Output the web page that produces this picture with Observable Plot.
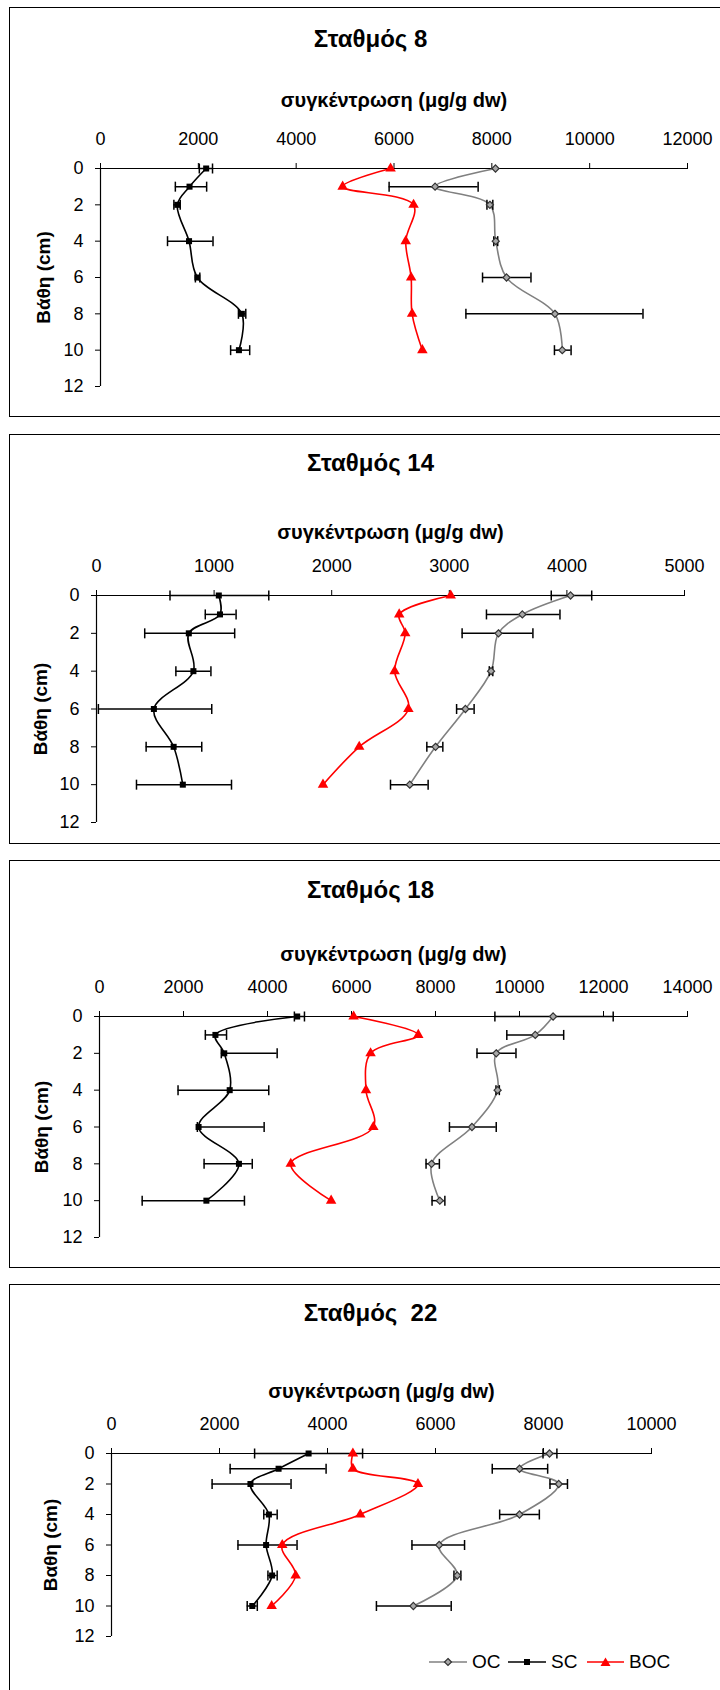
<!DOCTYPE html>
<html>
<head>
<meta charset="utf-8">
<script src="https://cdn.jsdelivr.net/npm/d3@7"></script>
<script src="https://cdn.jsdelivr.net/npm/@observablehq/plot@0.6"></script>
<style>
  body { margin: 0; background: #fff; font-family: "Liberation Sans", Arial, sans-serif; }
  #page { position: relative; width: 720px; height: 1690px; overflow: hidden; background: #fff; }
  .frame { position: absolute; border: 1.5px solid #000; box-sizing: border-box; }
  .plotbox { position: absolute; left: 0; }
  .plotbox svg { overflow: visible; }
  .leg { position: absolute; font-size: 19px; line-height: 1; color: #000; }
</style>
</head>
<body>
<div id="page"></div>
<script>
// ---------- data ----------
const depths = [0, 1, 2, 4, 6, 8, 10];
const yTicks = [0, 2, 4, 6, 8, 10, 12];
const stationTitles = ["Σταθμός 8", "Σταθμός 14", "Σταθμός 18", "Σταθμός  22"];
const depthLabels = ["Βάθη (cm)", "Βάθη (cm)", "Βάθη (cm)", "Βαθη (cm)"];
const xTitle = "συγκέντρωση (μg/g dw)";
const xMax = [12000, 5000, 14000, 10000];
const xStep = [2000, 1000, 2000, 2000];
const seriesNames = ["OC", "SC", "BOC"];

// Station 8
const st8_OC    = [8075, 6840, 7960, 8080, 8300, 9290, 9440];
const st8_OC_lo = [null, 5900, 7900, 8040, 7810, 7470, 9280];
const st8_OC_hi = [null, 7720, 8020, 8120, 8800, 11090, 9620];
const st8_SC    = [2160, 1820, 1570, 1810, 1980, 2890, 2830];
const st8_SC_lo = [2020, 1530, 1500, 1370, 1940, 2820, 2660];
const st8_SC_hi = [2290, 2170, 1630, 2300, 2030, 2970, 3050];
const st8_BOC   = [5930, 4950, 6400, 6240, 6350, 6370, 6580];

// Station 14
const st14_OC    = [4031, 3621, 3418, 3355, 3137, 2883, 2664];
const st14_OC_lo = [3867, 3316, 3109, 3340, 3062, 2809, 2500];
const st14_OC_hi = [4211, 3941, 3711, 3370, 3211, 2945, 2820];
const st14_SC    = [1040, 1050, 785, 824, 488, 656, 734];
const st14_SC_lo = [625, 925, 410, 675, 16, 422, 340];
const st14_SC_hi = [1465, 1187, 1175, 973, 980, 895, 1148];
const st14_BOC   = [3012, 2574, 2625, 2535, 2652, 2234, 1926];

// Station 18
const st18_OC    = [10800, 10375, 9446, 9479, 8868, 7907, 8103];
const st18_OC_lo = [9414, 9698, 8988, 9440, 8332, 7775, 7918];
const st18_OC_hi = [12231, 11052, 9916, 9520, 9446, 8092, 8223];
const st18_SC    = [4707, 2760, 2970, 3100, 2359, 3320, 2545];
const st18_SC_lo = [4640, 2520, 2900, 1870, 2330, 2490, 1016];
const st18_SC_hi = [4880, 3025, 4230, 4030, 3920, 3637, 3451];
const st18_BOC   = [6050, 7590, 6454, 6345, 6520, 4554, 5515];

// Station 22
const st22_OC    = [8111, 7556, 8282, 7556, 6068, 6402, 5590];
const st22_OC_lo = [7991, 7051, 8120, 7188, 5564, 6342, 4906];
const st22_OC_hi = [8248, 8077, 8444, 7923, 6538, 6470, 6291];
const st22_SC    = [3650, 3094, 2573, 2915, 2863, 2974, 2607];
const st22_SC_lo = [2650, 2197, 1863, 2820, 2342, 2897, 2513];
const st22_SC_hi = [4650, 3974, 3325, 3068, 3436, 3068, 2700];
const st22_BOC   = [4470, 4470, 5675, 4607, 3162, 3410, 2966];

const stations = [
  {OC: st8_OC,  OClo: st8_OC_lo,  OChi: st8_OC_hi,  SC: st8_SC,  SClo: st8_SC_lo,  SChi: st8_SC_hi,  BOC: st8_BOC},
  {OC: st14_OC, OClo: st14_OC_lo, OChi: st14_OC_hi, SC: st14_SC, SClo: st14_SC_lo, SChi: st14_SC_hi, BOC: st14_BOC},
  {OC: st18_OC, OClo: st18_OC_lo, OChi: st18_OC_hi, SC: st18_SC, SClo: st18_SC_lo, SChi: st18_SC_hi, BOC: st18_BOC},
  {OC: st22_OC, OClo: st22_OC_lo, OChi: st22_OC_hi, SC: st22_SC, SClo: st22_SC_lo, SChi: st22_SC_hi, BOC: st22_BOC}
];

// ---------- layout (page pixels) ----------
const layout = [
  {T: 7,    B: 417,  y0: 168,  y12: 386,  x0: 100, x1: 687, titleY: 46,   axTitleY: 106,  ylabX: 43},
  {T: 434,  B: 844,  y0: 595,  y12: 822,  x0: 96,  x1: 684, titleY: 470,  axTitleY: 538,  ylabX: 40},
  {T: 860,  B: 1268, y0: 1016, y12: 1237, x0: 99,  x1: 687, titleY: 897,  axTitleY: 960,  ylabX: 41},
  {T: 1284, B: 1720, y0: 1453, y12: 1636, x0: 111, x1: 651, titleY: 1320, axTitleY: 1397, ylabX: 50}
];
const titleCenterX = 370;

const colors = {OC: "#808080", SC: "#000000", BOC: "#ff0000"};

// custom vertical cap symbol for error bars
const capSymbol = {
  draw(context, size) {
    const h = Math.sqrt(size / Math.PI);
    context.moveTo(0, -h);
    context.lineTo(0, h);
  }
};

const page = document.getElementById("page");

layout.forEach((L, i) => {
  const frame = document.createElement("div");
  frame.className = "frame";
  frame.style.left = "9px";
  frame.style.top = L.T + "px";
  frame.style.width = "730px";
  frame.style.height = (L.B - L.T) + "px";
  page.appendChild(frame);

  const S = stations[i];
  const rows = depths.map((d, k) => ({depth: d, OC: S.OC[k], SC: S.SC[k], BOC: S.BOC[k]}));
  const err = [];
  depths.forEach((d, k) => {
    if (S.OClo[k] != null) err.push({depth: d, lo: S.OClo[k], hi: S.OChi[k]});
    if (S.SClo[k] != null) err.push({depth: d, lo: S.SClo[k], hi: S.SChi[k]});
  });

  const mt = L.y0 - L.T;
  const mb = 14;
  const height = mt + (L.y12 - L.y0) + mb;
  const frameCenter = (L.x0 + L.x1) / 2;

  const chart = Plot.plot({
    width: 720,
    height,
    marginTop: mt,
    marginBottom: mb,
    marginLeft: L.x0,
    marginRight: 720 - L.x1,
    style: {fontFamily: "'Liberation Sans', Arial, sans-serif", fontSize: "18px", color: "#000", background: "transparent", overflow: "visible"},
    x: {domain: [0, xMax[i]]},
    y: {domain: [0, 12], range: [mt, mt + (L.y12 - L.y0)]},
    marks: [
      Plot.ruleY([0], {stroke: "#000", strokeWidth: 1.2}),
      Plot.ruleX([0], {y1: 0, y2: 12, stroke: "#000", strokeWidth: 1.2}),
      Plot.axisX({anchor: "top", ticks: d3.range(0, xMax[i] + 1, xStep[i]), tickSize: 6, tickPadding: 18, tickFormat: d => `${d}`, label: null, stroke: "#000"}),
      Plot.axisY({anchor: "left", ticks: yTicks, tickSize: 5, tickPadding: 12, tickFormat: d => `${d}`, label: null, stroke: "#000"}),
      Plot.text([stationTitles[i]], {frameAnchor: "top", textAnchor: "middle", dx: titleCenterX - frameCenter, dy: L.titleY - L.y0, lineAnchor: "bottom", fontWeight: "bold", fontSize: 24, fill: "#000"}),
      Plot.text([xTitle], {frameAnchor: "top", textAnchor: "middle", dy: L.axTitleY - L.y0, lineAnchor: "bottom", fontWeight: "bold", fontSize: 20, fill: "#000"}),
      Plot.text([depthLabels[i]], {frameAnchor: "left", textAnchor: "middle", rotate: -90, dx: L.ylabX - L.x0, lineAnchor: "middle", fontWeight: "bold", fontSize: 19, fill: "#000"}),
      Plot.line(rows, {x: "OC", y: "depth", curve: "catmull-rom", stroke: colors.OC, strokeWidth: 1.6}),
      Plot.line(rows, {x: "SC", y: "depth", curve: "catmull-rom", stroke: colors.SC, strokeWidth: 1.6}),
      Plot.line(rows, {x: "BOC", y: "depth", curve: "catmull-rom", stroke: colors.BOC, strokeWidth: 1.6}),
      Plot.ruleY(err, {y: "depth", x1: "lo", x2: "hi", stroke: "#000", strokeWidth: 1.5}),
      Plot.dot(err, {x: "lo", y: "depth", symbol: capSymbol, r: 5, fill: "none", stroke: "#000", strokeWidth: 1.5}),
      Plot.dot(err, {x: "hi", y: "depth", symbol: capSymbol, r: 5, fill: "none", stroke: "#000", strokeWidth: 1.5}),
      Plot.dot(rows, {x: "OC", y: "depth", symbol: "diamond2", r: 3.2, fill: "#a8a8a8", stroke: "#333", strokeWidth: 1.2}),
      Plot.dot(rows, {x: "SC", y: "depth", symbol: "square", r: 3.4, fill: "#000", stroke: "none"}),
      Plot.dot(rows, {x: "BOC", y: "depth", symbol: "triangle", r: 3.9, fill: colors.BOC, stroke: "none"})
    ]
  });
  const box = document.createElement("div");
  box.className = "plotbox";
  box.style.top = L.T + "px";
  box.appendChild(chart);
  page.appendChild(box);
});

// ---------- legend (bottom of last panel) ----------
const legendCY = 1662;
const legendItems = [
  {name: seriesNames[0], lineX: 429, lineW: 38, textX: 472, marker: "diamond"},
  {name: seriesNames[1], lineX: 508, lineW: 38, textX: 551, marker: "square"},
  {name: seriesNames[2], lineX: 587, lineW: 37, textX: 629, marker: "triangle"}
];
legendItems.forEach(it => {
  const svgNS = "http://www.w3.org/2000/svg";
  const s = document.createElementNS(svgNS, "svg");
  s.setAttribute("width", it.lineW);
  s.setAttribute("height", 14);
  s.style.position = "absolute";
  s.style.left = it.lineX + "px";
  s.style.top = (legendCY - 7) + "px";
  s.style.overflow = "visible";
  const col = colors[it.name];
  const ln = document.createElementNS(svgNS, "line");
  ln.setAttribute("x1", 0); ln.setAttribute("x2", it.lineW);
  ln.setAttribute("y1", 7); ln.setAttribute("y2", 7);
  ln.setAttribute("stroke", col); ln.setAttribute("stroke-width", 1.6);
  s.appendChild(ln);
  const c = it.lineW / 2;
  const p = document.createElementNS(svgNS, "path");
  if (it.marker === "diamond") {
    p.setAttribute("d", `M${c},3.5L${c + 3.5},7L${c},10.5L${c - 3.5},7Z`);
    p.setAttribute("fill", "#a8a8a8"); p.setAttribute("stroke", "#333"); p.setAttribute("stroke-width", 1.2);
  } else if (it.marker === "square") {
    p.setAttribute("d", `M${c - 3},4H${c + 3}V10H${c - 3}Z`);
    p.setAttribute("fill", "#000");
  } else {
    p.setAttribute("d", `M${c},2.5L${c + 5},11L${c - 5},11Z`);
    p.setAttribute("fill", col);
  }
  s.appendChild(p);
  page.appendChild(s);
  const t = document.createElement("div");
  t.className = "leg";
  t.textContent = it.name;
  t.style.left = it.textX + "px";
  t.style.top = (legendCY - 10) + "px";
  page.appendChild(t);
});
</script>
</body>
</html>
